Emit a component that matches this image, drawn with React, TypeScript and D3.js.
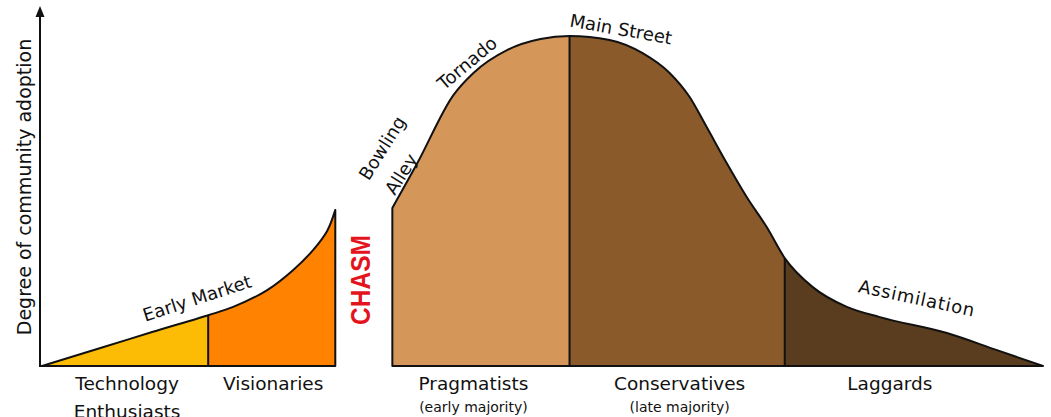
import React from "react";
import * as d3 from "d3";

const W = 1051;
const H = 417;

// Early market curve (x: adoption timeline 0-100, y: degree of adoption 0-100)
const earlyX = [0, 6, 11, 16.6, 19.1, 22.5, 25.1, 27.1, 28.5, 29.3];
const earlyY = [0, 5.6, 10.3, 15.4, 17.9, 23.0, 29.1, 35.2, 41.0, 47.3];

// Mainstream market curve
const mainX = [35.0, 37.5, 41.1, 43.1, 46.5, 49.8, 52.7, 56.7, 60.0, 62.7, 64.7, 66.4, 68.4, 70.4, 72.4, 74.2, 77.0, 80.4, 83.7, 90.4, 95.4, 100];
const mainY = [47.9, 61.5, 82.1, 88.8, 95.8, 99.1, 100, 98.8, 94.8, 88.8, 81.5, 72.4, 61.5, 51.2, 42.1, 32.7, 23.9, 17.9, 14.8, 10, 4.8, 0];

// Segments
const segStart = [0, 16.6, 35.0, 52.7, 74.2];
const segEnd = [16.6, 29.3, 52.7, 74.2, 100];
const segColors = ["#FCBC05", "#FF8200", "#D5965A", "#8A5A2B", "#5A3D1E"];
const segCurve = [0, 0, 1, 1, 1];

const dividers = [16.6, 52.7, 74.2];
const dividerCurve = [0, 1, 1];

const segLabel1 = ["Technology", "Visionaries", "Pragmatists", "Conservatives", "Laggards"];
const segLabel2 = ["Enthusiasts", "", "(early majority)", "(late majority)", ""];
const segLabelX = [8.5, 23.1, 43.1, 63.7, 84.7];

const x = d3.scaleLinear().domain([0, 100]).range([42, 1043]);
const y = d3.scaleLinear().domain([0, 100]).range([366, 36]);

const FONT = "'DejaVu Sans', Verdana, sans-serif";

function curvePts(i: number): [number, number][] {
  const xs = i === 0 ? earlyX : mainX;
  const ys = i === 0 ? earlyY : mainY;
  return xs.map((v, k) => [v, ys[k]]);
}

export default function App() {
  const makeArea = (curve: d3.CurveFactory) =>
    d3
      .area<[number, number]>()
      .x((d) => x(d[0]))
      .y0(y(0))
      .y1((d) => y(d[1]))
      .curve(curve);

  const curves = [curvePts(0), curvePts(1)];
  const areaPaths = [
    makeArea(d3.curveCatmullRom.alpha(0.5))(curves[0]) as string,
    makeArea(d3.curveMonotoneX)(curves[1]) as string,
  ];

  const valueAt = (ci: number, xv: number) => {
    const c = curves[ci];
    const p = c.find((d) => Math.abs(d[0] - xv) < 1e-6);
    return p ? p[1] : 0;
  };

  return (
    <svg
      width={W}
      height={H}
      style={{ position: "absolute", left: 0, top: 0, background: "#fff" }}
      fontFamily={FONT}
    >
      <defs>
        {segStart.map((s, i) => (
          <clipPath id={`seg${i}`} key={i}>
            <rect x={x(s)} y={0} width={x(segEnd[i]) - x(s)} height={H} />
          </clipPath>
        ))}
      </defs>

      {segStart.map((s, i) => (
        <path key={i} d={areaPaths[segCurve[i]]} fill={segColors[i]} clipPath={`url(#seg${i})`} />
      ))}

      {areaPaths.map((d, i) => (
        <path key={i} d={d} fill="none" stroke="#111" strokeWidth={2} strokeLinejoin="round" />
      ))}

      {dividers.map((dv, i) => (
        <line
          key={i}
          x1={x(dv)}
          x2={x(dv)}
          y1={y(0)}
          y2={y(valueAt(dividerCurve[i], dv))}
          stroke="#111"
          strokeWidth={2}
        />
      ))}

      {/* Y axis */}
      <line x1={40} x2={40} y1={y(0)} y2={16} stroke="#111" strokeWidth={2} />
      <path d="M40,6 L35.5,17 L44.5,17 Z" fill="#111" />
      <line x1={39} x2={x(29.3)} y1={y(0)} y2={y(0)} stroke="#111" strokeWidth={2} />

      <text
        transform="translate(31,187) rotate(-90)"
        textAnchor="middle"
        fontSize={19}
        fill="#111"
      >
        Degree of community adoption
      </text>

      {/* Segment labels */}
      {segLabel1.map((t, i) => (
        <text key={i} x={x(segLabelX[i])} y={390} textAnchor="middle" fontSize={18.5} fill="#111">
          {t}
        </text>
      ))}
      {segLabel2.map((t, i) =>
        t ? (
          <text
            key={i}
            x={x(segLabelX[i])}
            y={i === 0 ? 418 : 412}
            textAnchor="middle"
            fontSize={i === 0 ? 18.5 : 14}
            fill="#111"
          >
            {t}
          </text>
        ) : null
      )}

      {/* CHASM */}
      <text
        transform="translate(370,280) rotate(-90)"
        textAnchor="middle"
        fontSize={27}
        fontWeight="bold"
        fill="#E3141B"
        textLength={90}
        lengthAdjust="spacingAndGlyphs"
        fontFamily="'Liberation Sans', Arial, sans-serif"
      >
        CHASM
      </text>

      {/* Curve annotations */}
      <text transform="translate(197,298) rotate(-18)" textAnchor="middle" dominantBaseline="central" fontSize={18} fill="#111">
        Early Market
      </text>
      <text transform="translate(382,148) rotate(-58)" textAnchor="middle" dominantBaseline="central" fontSize={18} fill="#111">
        Bowling
      </text>
      <text transform="translate(401,174) rotate(-58)" textAnchor="middle" dominantBaseline="central" fontSize={18} fill="#111">
        Alley
      </text>
      <text transform="translate(467,63) rotate(-40)" textAnchor="middle" dominantBaseline="central" fontSize={18} fill="#111">
        Tornado
      </text>
      <text transform="translate(621,29) rotate(10)" textAnchor="middle" dominantBaseline="central" fontSize={18} fill="#111">
        Main Street
      </text>
      <text transform="translate(917,298) rotate(12)" textAnchor="middle" dominantBaseline="central" fontSize={18} fill="#111" letterSpacing={0.8}>
        Assimilation
      </text>
    </svg>
  );
}
